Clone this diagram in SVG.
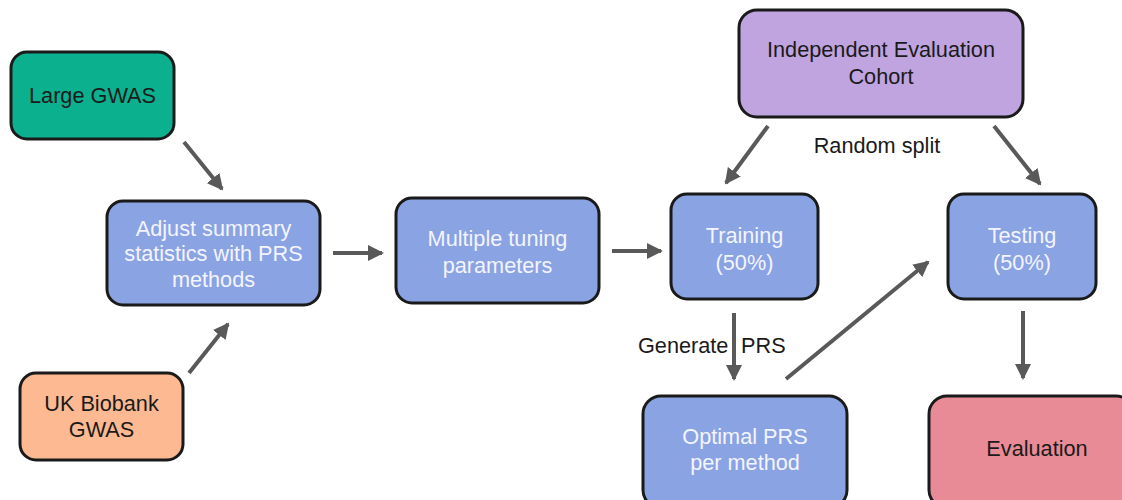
<svg xmlns="http://www.w3.org/2000/svg" width="1122" height="500" viewBox="0 0 1122 500">
  <defs>
    <marker id="head" viewBox="0 0 16 16" refX="14" refY="8" markerWidth="16" markerHeight="16" markerUnits="userSpaceOnUse" orient="auto">
      <path d="M0,0 L16,8 L0,16 Z" fill="#595959"/>
    </marker>
    <style>
      .box { stroke: #1a1a1a; stroke-width: 3; }
      .green { fill: #0bb08e; }
      .blue { fill: #8aa3e3; }
      .peach { fill: #fdb991; }
      .purple { fill: #bfa4e0; }
      .pink { fill: #e98b96; }
      .lbl { font-family: "Liberation Sans", Arial, sans-serif; font-size: 21.7px; text-anchor: middle; }
      .dark { fill: #1a1a1a; }
      .light { fill: #f4f4ff; }
      .edge { stroke: #595959; stroke-width: 4; fill: none; marker-end: url(#head); }
      .note { font-family: "Liberation Sans", Arial, sans-serif; font-size: 21.7px; fill: #1a1a1a; }
    </style>
  </defs>

  <rect width="1122" height="500" fill="#ffffff"/>

  <g id="large-gwas">
    <rect class="box green" x="11" y="52" width="163" height="87" rx="16"/>
    <text class="lbl dark" x="92.5" y="103">Large GWAS</text>
  </g>

  <g id="uk-biobank">
    <rect class="box peach" x="20" y="373" width="163" height="87" rx="16"/>
    <text class="lbl dark" x="101.5" y="411">UK Biobank</text>
    <text class="lbl dark" x="101.5" y="437">GWAS</text>
  </g>

  <g id="adjust">
    <rect class="box blue" x="107" y="201" width="213" height="104" rx="16"/>
    <text class="lbl light" x="213.5" y="236">Adjust summary</text>
    <text class="lbl light" x="213.5" y="261">statistics with PRS</text>
    <text class="lbl light" x="213.5" y="287">methods</text>
  </g>

  <g id="tuning">
    <rect class="box blue" x="396" y="198" width="203" height="105" rx="16"/>
    <text class="lbl light" x="497.5" y="246">Multiple tuning</text>
    <text class="lbl light" x="497.5" y="273">parameters</text>
  </g>

  <g id="cohort">
    <rect class="box purple" x="739" y="10" width="284" height="107" rx="18"/>
    <text class="lbl dark" x="881" y="57">Independent Evaluation</text>
    <text class="lbl dark" x="881" y="84">Cohort</text>
  </g>

  <g id="training">
    <rect class="box blue" x="671" y="194" width="147" height="105" rx="16"/>
    <text class="lbl light" x="744.5" y="243">Training</text>
    <text class="lbl light" x="744.5" y="270">(50%)</text>
  </g>

  <g id="testing">
    <rect class="box blue" x="948" y="194" width="148" height="105" rx="16"/>
    <text class="lbl light" x="1022" y="243">Testing</text>
    <text class="lbl light" x="1022" y="270">(50%)</text>
  </g>

  <g id="optimal">
    <rect class="box blue" x="643" y="396" width="204" height="112" rx="18"/>
    <text class="lbl light" x="745" y="444">Optimal PRS</text>
    <text class="lbl light" x="745" y="470">per method</text>
  </g>

  <g id="evaluation">
    <rect class="box pink" x="929" y="396" width="205" height="112" rx="18"/>
    <text class="lbl dark" x="1037" y="456">Evaluation</text>
  </g>

  <g id="connectors">
    <line class="edge" x1="184" y1="142" x2="222" y2="189"/>
    <line class="edge" x1="189" y1="373" x2="228" y2="324"/>
    <line class="edge" x1="333" y1="253" x2="382" y2="253"/>
    <line class="edge" x1="612" y1="251" x2="661" y2="251"/>
    <line class="edge" x1="768" y1="126" x2="726" y2="183"/>
    <line class="edge" x1="994" y1="126" x2="1040" y2="184"/>
    <line class="edge" x1="734" y1="313" x2="734" y2="379"/>
    <line class="edge" x1="786" y1="379" x2="928" y2="262"/>
    <line class="edge" x1="1023" y1="311" x2="1023" y2="378"/>
    <text class="note" x="877" y="153" text-anchor="middle">Random split</text>
    <text class="note" x="638" y="353">Generate</text>
    <text class="note" x="741" y="353">PRS</text>
  </g>
</svg>
